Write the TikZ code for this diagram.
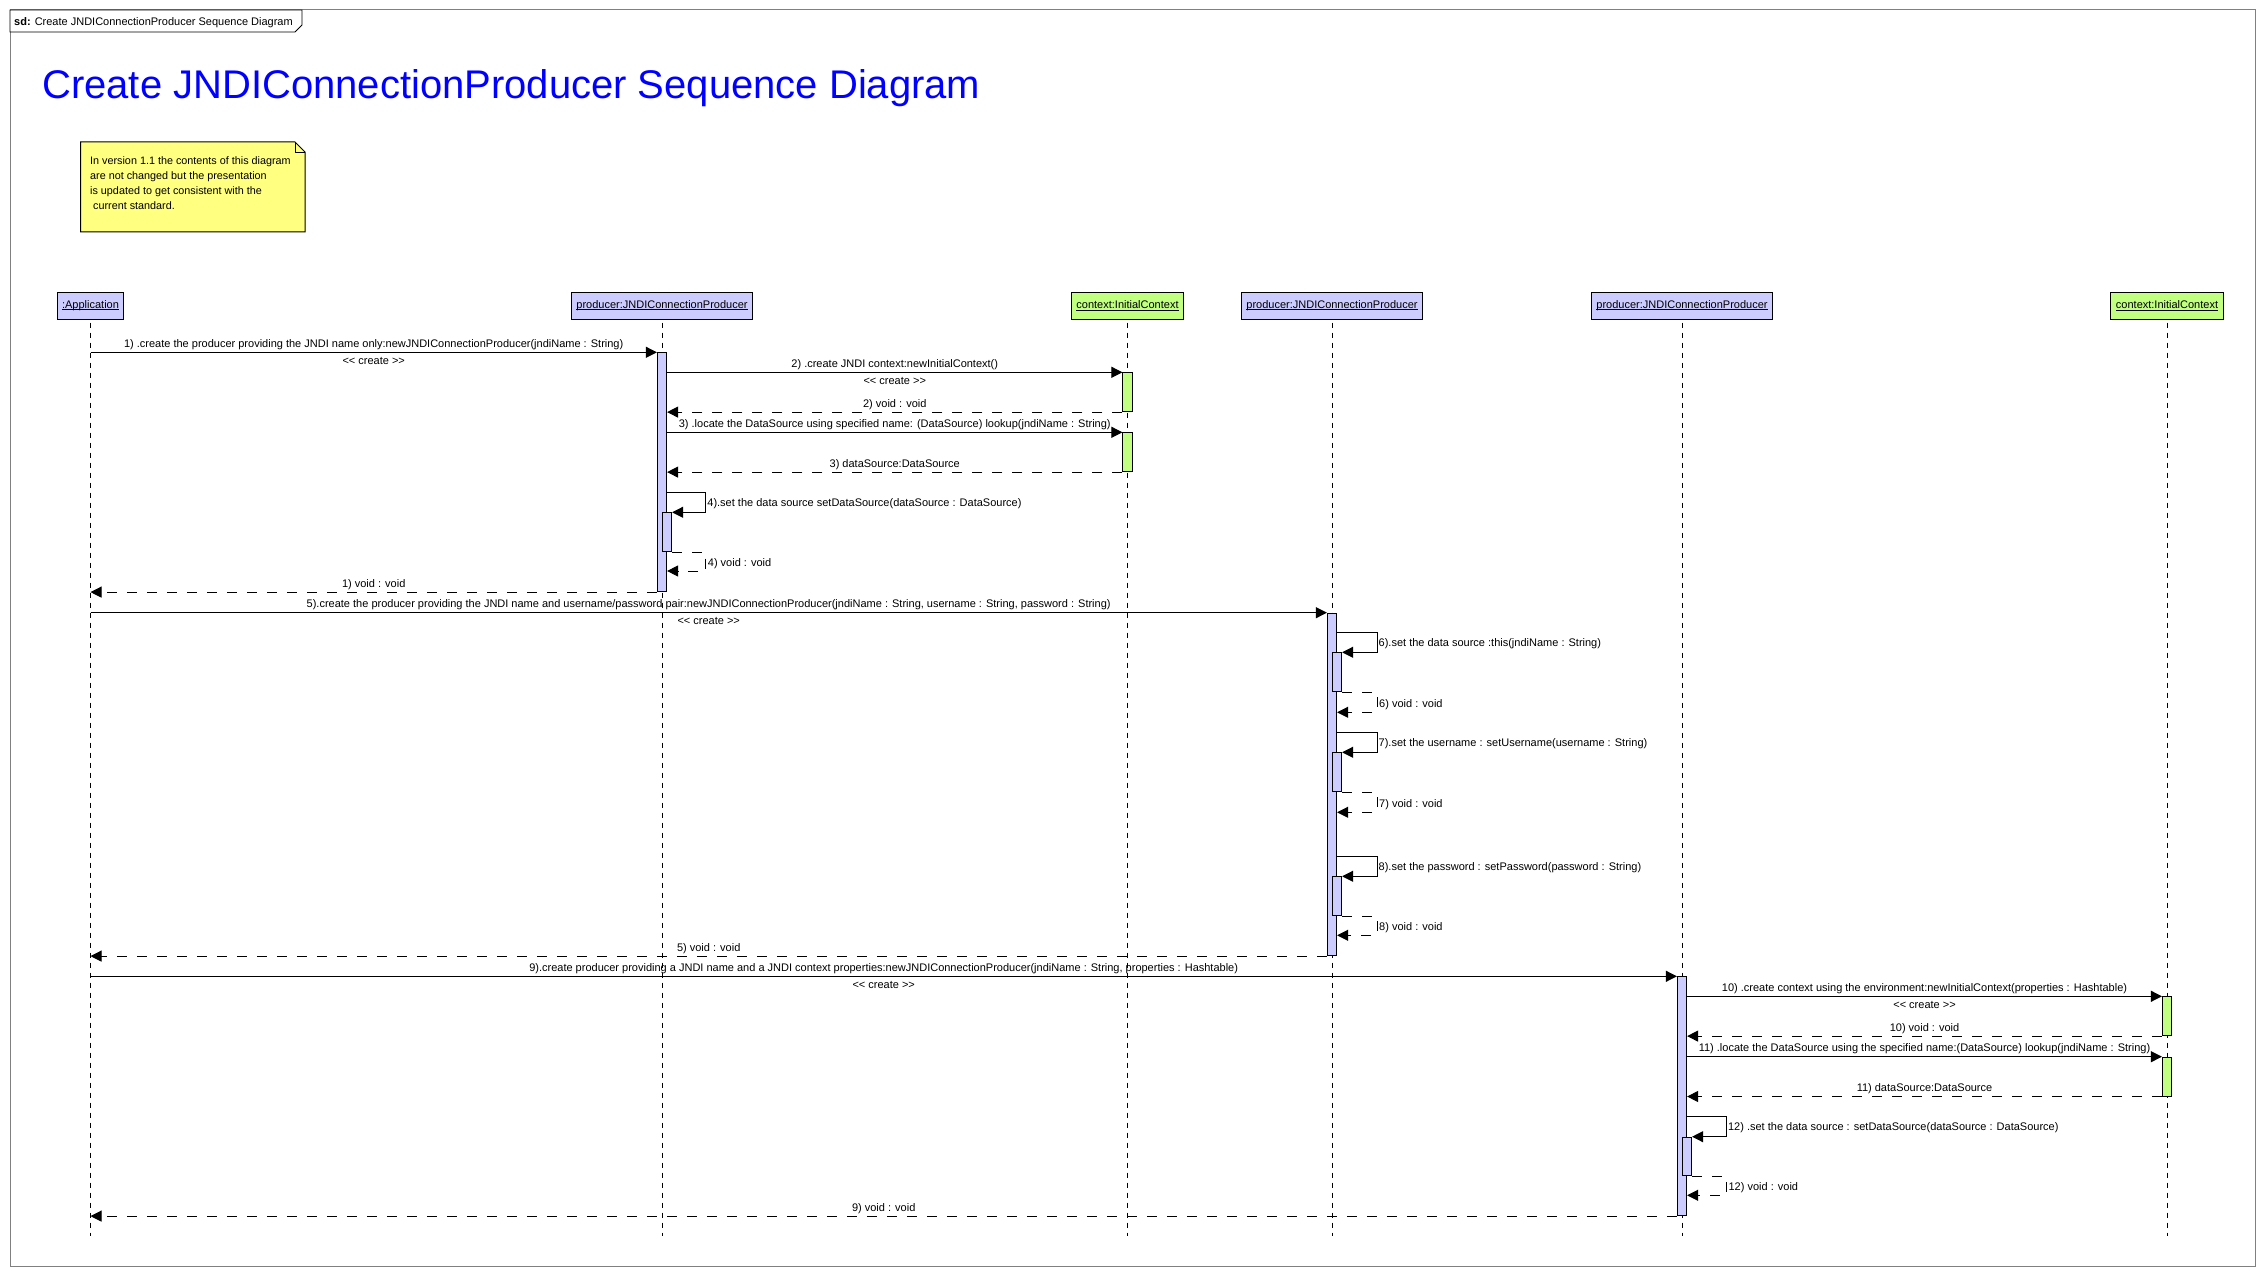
\documentclass[tikz,border=0pt]{standalone}
\usepackage{fontspec}
\setmainfont{Liberation Sans}
\usetikzlibrary{arrows.meta}

\definecolor{objblue}{RGB}{204,204,255}
\definecolor{objgreen}{RGB}{192,255,128}
\definecolor{noteyellow}{RGB}{255,255,128}
\definecolor{framegray}{RGB}{128,128,128}

\newcommand{\undertext}[1]{\setbox0\hbox{#1}\rlap{\rule[-1.6pt]{\wd0}{0.7pt}}\box0}
\newcommand{\create}{{<}\kern0pt{<}\kern0pt{} create {>}\kern0pt{>}}

\begin{document}
\begin{tikzpicture}[x=1pt, y=-1pt]
	\tikzstyle{obj} = [draw, fill=objblue, line width=1pt, minimum height=27pt, inner xsep=5pt, inner ysep=0pt, font=\fontsize{11}{12}\selectfont]
	\tikzstyle{ctx} = [obj, fill=objgreen]
	\tikzstyle{bar} = [draw, fill=objblue, line width=0.8pt, minimum width=9.4pt, inner sep=0pt, anchor=north]
	\tikzstyle{bargreen} = [bar, fill=objgreen]
	\tikzstyle{lifeline} = [line width=0.8pt, dash pattern=on 5pt off 5pt]
	\tikzstyle{msg} = [line width=1pt, -{Triangle[length=11pt, width=11pt]}]
	\tikzstyle{ret} = [msg, dash pattern=on 10pt off 10pt]
	\tikzstyle{lbl} = [font=\fontsize{11}{12}\selectfont, inner sep=0pt]
	\tikzstyle{above msg} = [lbl, midway, anchor=base, yshift=5pt]
	\tikzstyle{below msg} = [lbl, midway, anchor=base, yshift=-12pt]

	\useasboundingbox (0,0) rectangle (2265,1276);
	\fill[white] (0,0) rectangle (2265,1276);

	% frame and heading
	\draw[framegray, line width=1pt] (10,10) rectangle (2255,1266);
	\draw[fill=white, line width=0.8pt] (10,10) -- (302,10) -- (302,25) -- (295,32) -- (10,32) -- cycle;
	\node[anchor=base west, inner sep=0pt, font=\fontsize{11}{12}\selectfont] (tab) at (14,26) {\textbf{sd:} Create JNDIConnectionProducer Sequence Diagram};
	\node[anchor=base west, inner sep=0pt, text=blue, font=\fontsize{40}{42}\selectfont] (title) at (42,99) {Create JNDIConnectionProducer Sequence Diagram};

	% note
	\draw[fill=noteyellow, line width=1pt] (80.7,142) -- (295,142) -- (305,152) -- (305,232) -- (80.7,232) -- cycle;
	\draw[line width=0.8pt] (295,142) -- (295,152) -- (305,152);
	\node[anchor=north west, inner sep=0pt, align=left, font=\fontsize{10.8}{15}\selectfont] (note) at (90,156) {In version 1.1 the contents of this diagram\\are not changed but the presentation\\is updated to get consistent with the\\\ current standard.};

	% objects
	\node[obj] (app) at (90.5,305.5) {\undertext{:Application}};
	\node[obj] (prodA) at (662,305.5) {\undertext{producer:JNDIConnectionProducer}};
	\node[ctx] (ctxA) at (1127.5,305.5) {\undertext{context:InitialContext}};
	\node[obj] (prodB) at (1332,305.5) {\undertext{producer:JNDIConnectionProducer}};
	\node[obj] (prodC) at (1682,305.5) {\undertext{producer:JNDIConnectionProducer}};
	\node[ctx] (ctxB) at (2167,305.5) {\undertext{context:InitialContext}};

	% lifelines
	\coordinate (bottom) at (0,1236);
	\foreach \o in {app, prodA, ctxA, prodB, prodC, ctxB}
		\draw[lifeline] (\o.south) ++(0,3) -- (\o.south |- bottom);

	% activations
	\node[bar, minimum height=239pt] (actA) at (662,352.3) {};
	\node[bar, minimum height=39pt] (actA4) at (667,512.3) {};
	\node[bargreen, minimum height=39pt] (ctxA1) at (1127.5,372.3) {};
	\node[bargreen, minimum height=39pt] (ctxA2) at (1127.5,432.3) {};
	\node[bar, minimum height=342.6pt] (actB) at (1332,612.7) {};
	\node[bar, minimum height=39pt] (actB6) at (1337,652.3) {};
	\node[bar, minimum height=39pt] (actB7) at (1337,752.3) {};
	\node[bar, minimum height=39pt] (actB8) at (1337,876.3) {};
	\node[bar, minimum height=239pt] (actC) at (1682,976.3) {};
	\node[bargreen, minimum height=39pt] (ctxB1) at (2167,996.3) {};
	\node[bargreen, minimum height=39pt] (ctxB2) at (2167,1056.7) {};
	\node[bar, minimum height=38.6pt] (actC12) at (1687,1136.7) {};

	% corners of the self calls
	\coordinate (s4) at (705.7,492.3);
	\coordinate (r4) at (705.7,571);
	\coordinate (s6) at (1377,632.3);
	\coordinate (r6) at (1377,712.3);
	\coordinate (s7) at (1377,732.3);
	\coordinate (r7) at (1377,812.3);
	\coordinate (s8) at (1377,856.3);
	\coordinate (r8) at (1377,935.3);
	\coordinate (s12) at (1726.4,1116.3);
	\coordinate (r12) at (1726.4,1195.3);

	% first producer
	\draw[msg] (app |- actA.north) -- (actA.north west)
		node[above msg] {1) .create the producer providing the JNDI name only:newJNDIConnectionProducer(jndiName : String)}
		node[below msg] {\create};
	\draw[msg] (actA.east |- ctxA1.north) -- (ctxA1.north west)
		node[above msg] {2) .create JNDI context:newInitialContext()}
		node[below msg] {\create};
	\draw[ret] (ctxA1.south west) -- (actA.east |- ctxA1.south)
		node[above msg] {2) void : void};
	\draw[msg] (actA.east |- ctxA2.north) -- (ctxA2.north west)
		node[above msg] {3) .locate the DataSource using specified name: (DataSource) lookup(jndiName : String)};
	\draw[ret] (ctxA2.south west) -- (actA.east |- ctxA2.south)
		node[above msg] {3) dataSource:DataSource};
	\draw[msg] (actA.east |- s4) -- (s4) |- (actA4.north east);
	\node[lbl, anchor=base west, xshift=1.5pt, yshift=-14pt] at (s4) {4).set the data source setDataSource(dataSource : DataSource)};
	\draw[ret] (actA4.south east) -| (r4) -- (actA.east |- r4);
	\node[lbl, anchor=base west, xshift=2pt, yshift=5pt] at (r4) {4) void : void};
	\draw[ret] (actA.south west) -- (app |- actA.south)
		node[above msg] {1) void : void};

	% second producer
	\draw[msg] (app |- actB.north) -- (actB.north west)
		node[above msg] {5).create the producer providing the JNDI name and username/password pair:newJNDIConnectionProducer(jndiName : String, username : String, password : String)}
		node[below msg] {\create};
	\draw[msg] (actB.east |- s6) -- (s6) |- (actB6.north east);
	\node[lbl, anchor=base west, xshift=1.5pt, yshift=-14pt] at (s6) {6).set the data source :this(jndiName : String)};
	\draw[ret] (actB6.south east) -| (r6) -- (actB.east |- r6);
	\node[lbl, anchor=base west, xshift=2pt, yshift=5pt] at (r6) {6) void : void};
	\draw[msg] (actB.east |- s7) -- (s7) |- (actB7.north east);
	\node[lbl, anchor=base west, xshift=1.5pt, yshift=-14pt] at (s7) {7).set the username : setUsername(username : String)};
	\draw[ret] (actB7.south east) -| (r7) -- (actB.east |- r7);
	\node[lbl, anchor=base west, xshift=2pt, yshift=5pt] at (r7) {7) void : void};
	\draw[msg] (actB.east |- s8) -- (s8) |- (actB8.north east);
	\node[lbl, anchor=base west, xshift=1.5pt, yshift=-14pt] at (s8) {8).set the password : setPassword(password : String)};
	\draw[ret] (actB8.south east) -| (r8) -- (actB.east |- r8);
	\node[lbl, anchor=base west, xshift=2pt, yshift=5pt] at (r8) {8) void : void};
	\draw[ret] (actB.south west) -- (app |- actB.south)
		node[above msg] {5) void : void};

	% third producer
	\draw[msg] (app |- actC.north) -- (actC.north west)
		node[above msg] {9).create producer providing a JNDI name and a JNDI context properties:newJNDIConnectionProducer(jndiName : String, properties : Hashtable)}
		node[below msg] {\create};
	\draw[msg] (actC.east |- ctxB1.north) -- (ctxB1.north west)
		node[above msg] {10) .create context using the environment:newInitialContext(properties : Hashtable)}
		node[below msg] {\create};
	\draw[ret] (ctxB1.south west) -- (actC.east |- ctxB1.south)
		node[above msg] {10) void : void};
	\draw[msg] (actC.east |- ctxB2.north) -- (ctxB2.north west)
		node[above msg] {11) .locate the DataSource using the specified name:(DataSource) lookup(jndiName : String)};
	\draw[ret] (ctxB2.south west) -- (actC.east |- ctxB2.south)
		node[above msg] {11) dataSource:DataSource};
	\draw[msg] (actC.east |- s12) -- (s12) |- (actC12.north east);
	\node[lbl, anchor=base west, xshift=1.5pt, yshift=-14pt] at (s12) {12) .set the data source : setDataSource(dataSource : DataSource)};
	\draw[ret] (actC12.south east) -| (r12) -- (actC.east |- r12);
	\node[lbl, anchor=base west, xshift=2pt, yshift=5pt] at (r12) {12) void : void};
	\draw[ret] (actC.south west) -- (app |- actC.south)
		node[above msg] {9) void : void};
\end{tikzpicture}
\end{document}
